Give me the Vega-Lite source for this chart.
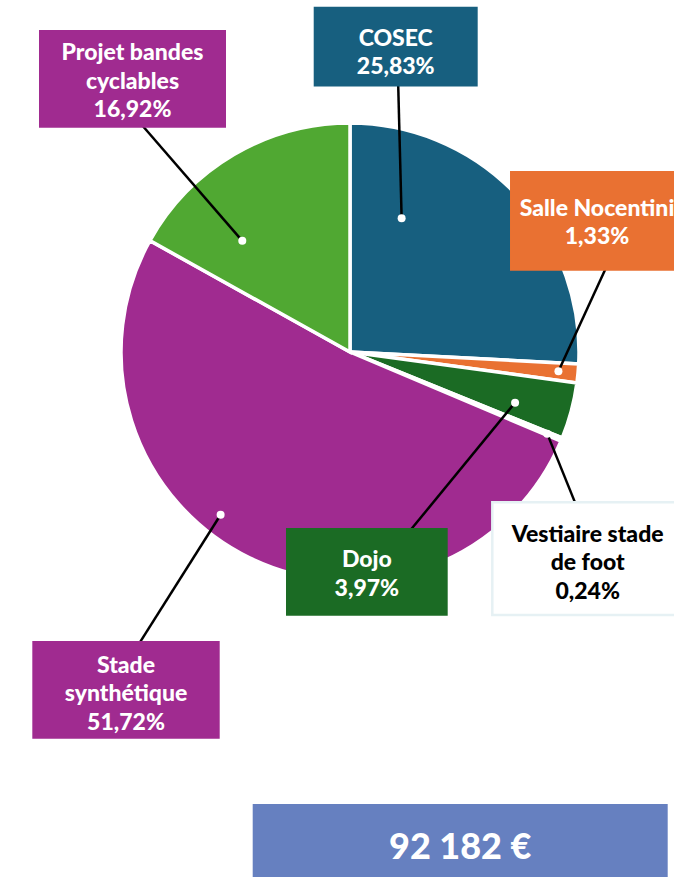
{
  "$schema": "https://vega.github.io/schema/vega-lite/v6.json",
  "width": 674,
  "height": 877,
  "padding": 0,
  "autosize": {"type": "none"},
  "background": "white",
  "config": {"view": {"stroke": null}},
  "datasets": {
    "slices": [
      {"name": "COSEC", "label": "COSEC", "value": 25.83},
      {"name": "Salle Nocentini", "label": "Salle Nocentini", "value": 1.33},
      {"name": "Dojo", "label": "Dojo", "value": 3.97},
      {"name": "Vestiaire stade de foot", "label": "Vestiaire stade\nde foot", "value": 0.24},
      {"name": "Stade synthétique", "label": "Stade\nsynthétique", "value": 51.72},
      {"name": "Projet bandes cyclables", "label": "Projet bandes\ncyclables", "value": 16.92}
    ],
    "total": [{"amount": 92182}]
  },
  "layer": [
    {
      "data": {"name": "slices"},
      "transform": [
        {"window": [{"op": "row_number", "as": "idx"}]},
        {"window": [{"op": "sum", "field": "value", "as": "cum"}], "sort": [{"field": "idx", "order": "ascending"}], "frame": [null, 0]},
        {"joinaggregate": [{"op": "sum", "field": "value", "as": "total"}]},
        {"calculate": "[0.227,0.48,0.65,0.5,0.567,0.276][datum.idx-1]", "as": "f"},
        {"calculate": "[0.626,0.914,0.754,0.932,0.908,0.676][datum.idx-1]", "as": "r"},
        {"calculate": "2*PI*(datum.cum-datum.value*(1-datum.f))/datum.total", "as": "ang"},
        {"calculate": "datum.r*sin(datum.ang)", "as": "dx"},
        {"calculate": "datum.r*cos(datum.ang)", "as": "dy"},
        {"calculate": "[0.2100,1.1245,0.2598,0.9917,-0.9279,-0.9153][datum.idx-1]", "as": "ex"},
        {"calculate": "[1.1847,0.3821,-0.7830,-0.6795,-1.2843,0.9991][datum.idx-1]", "as": "ey"},
        {"calculate": "[-0.1585,0.6987,-0.2795,0.6214,-1.3873,-1.3581][datum.idx-1]", "as": "bx1"},
        {"calculate": "[0.5576,1.4585,0.4266,1.4541,-0.5690,-0.5415][datum.idx-1]", "as": "bx2"},
        {"calculate": "[1.5079,0.7904,-0.7686,-0.6563,-1.2620,1.4061][datum.idx-1]", "as": "by1"},
        {"calculate": "[1.1594,0.3550,-1.1515,-1.1485,-1.6886,0.9795][datum.idx-1]", "as": "by2"},
        {"calculate": "(datum.bx1+datum.bx2)/2", "as": "tx"},
        {"calculate": "[1.3376,0.5952,-0.9402,-0.8284,-1.4004,1.2751][datum.idx-1]", "as": "ty"},
        {"calculate": "datum.label + '\\n' + replace(format(datum.value, '.2f'), '.', ',') + '%'", "as": "txt"}
      ],
      "layer": [
        {
          "mark": {"type": "arc", "radius": 229, "stroke": "white", "strokeWidth": 3.5},
          "encoding": {
            "x": {"datum": 0, "type": "quantitative", "scale": {"domain": [-1.5284, 1.4148], "nice": false, "zero": false}, "axis": null},
            "y": {"datum": 0, "type": "quantitative", "scale": {"domain": [-2.2926, 1.5371], "nice": false, "zero": false}, "axis": null},
            "theta": {"field": "value", "type": "quantitative", "stack": true},
            "order": {"field": "idx", "type": "quantitative"},
            "color": {
              "field": "name", "type": "nominal", "legend": null,
              "scale": {
                "domain": ["COSEC", "Salle Nocentini", "Dojo", "Vestiaire stade de foot", "Stade synthétique", "Projet bandes cyclables"],
                "range": ["#175f7f", "#e97132", "#1b6b24", "#f4f9fa", "#a02b90", "#50a832"]
              }
            }
          }
        },
        {
          "mark": {"type": "rule", "color": "black", "strokeWidth": 2.5},
          "encoding": {
            "x": {"field": "dx", "type": "quantitative", "scale": {"domain": [-1.5284, 1.4148], "nice": false, "zero": false}, "axis": null},
            "y": {"field": "dy", "type": "quantitative", "scale": {"domain": [-2.2926, 1.5371], "nice": false, "zero": false}, "axis": null},
            "x2": {"field": "ex"},
            "y2": {"field": "ey"}
          }
        },
        {
          "mark": {"type": "point", "filled": true, "color": "white", "opacity": 1, "size": 64, "shape": "circle"},
          "encoding": {
            "x": {"field": "dx", "type": "quantitative", "scale": {"domain": [-1.5284, 1.4148], "nice": false, "zero": false}, "axis": null},
            "y": {"field": "dy", "type": "quantitative", "scale": {"domain": [-2.2926, 1.5371], "nice": false, "zero": false}, "axis": null}
          }
        },
        {
          "mark": {"type": "rect", "stroke": "#e6f1f4"},
          "encoding": {
            "x": {"field": "bx1", "type": "quantitative", "scale": {"domain": [-1.5284, 1.4148], "nice": false, "zero": false}, "axis": null},
            "x2": {"field": "bx2"},
            "y": {"field": "by1", "type": "quantitative", "scale": {"domain": [-2.2926, 1.5371], "nice": false, "zero": false}, "axis": null},
            "y2": {"field": "by2"},
            "fill": {
              "field": "name", "type": "nominal", "legend": null,
              "scale": {
                "domain": ["COSEC", "Salle Nocentini", "Dojo", "Vestiaire stade de foot", "Stade synthétique", "Projet bandes cyclables"],
                "range": ["#175f7f", "#e97132", "#1b6b24", "#ffffff", "#a02b90", "#a02b90"]
              }
            },
            "strokeWidth": {"condition": {"test": "datum.idx === 4", "value": 2.5}, "value": 0}
          }
        },
        {
          "mark": {"type": "text", "font": "Lato", "fontWeight": 900, "fontSize": 23, "lineHeight": 28.7, "lineBreak": "\n", "align": "center", "baseline": "alphabetic"},
          "encoding": {
            "x": {"field": "tx", "type": "quantitative", "scale": {"domain": [-1.5284, 1.4148], "nice": false, "zero": false}, "axis": null},
            "y": {"field": "ty", "type": "quantitative", "scale": {"domain": [-2.2926, 1.5371], "nice": false, "zero": false}, "axis": null},
            "text": {"field": "txt"},
            "color": {"condition": {"test": "datum.idx === 4", "value": "#000000"}, "value": "#ffffff"}
          }
        }
      ]
    },
    {
      "data": {"name": "total"},
      "transform": [
        {"calculate": "replace(format(datum.amount, ','), ',', ' ') + ' €'", "as": "txt"},
        {"calculate": "-0.4249", "as": "bx1"},
        {"calculate": "1.3873", "as": "bx2"},
        {"calculate": "-1.9738", "as": "by1"},
        {"calculate": "-2.2926", "as": "by2"},
        {"calculate": "(datum.bx1+datum.bx2)/2", "as": "tx"},
        {"calculate": "-2.2153", "as": "ty"}
      ],
      "layer": [
        {
          "mark": {"type": "rect", "color": "#6680c0"},
          "encoding": {
            "x": {"field": "bx1", "type": "quantitative", "scale": {"domain": [-1.5284, 1.4148], "nice": false, "zero": false}, "axis": null},
            "x2": {"field": "bx2"},
            "y": {"field": "by1", "type": "quantitative", "scale": {"domain": [-2.2926, 1.5371], "nice": false, "zero": false}, "axis": null},
            "y2": {"field": "by2"}
          }
        },
        {
          "mark": {"type": "text", "font": "Lato", "fontWeight": 900, "fontSize": 36, "align": "center", "baseline": "alphabetic", "color": "white"},
          "encoding": {
            "x": {"field": "tx", "type": "quantitative", "scale": {"domain": [-1.5284, 1.4148], "nice": false, "zero": false}, "axis": null},
            "y": {"field": "ty", "type": "quantitative", "scale": {"domain": [-2.2926, 1.5371], "nice": false, "zero": false}, "axis": null},
            "text": {"field": "txt"}
          }
        }
      ]
    }
  ]
}
